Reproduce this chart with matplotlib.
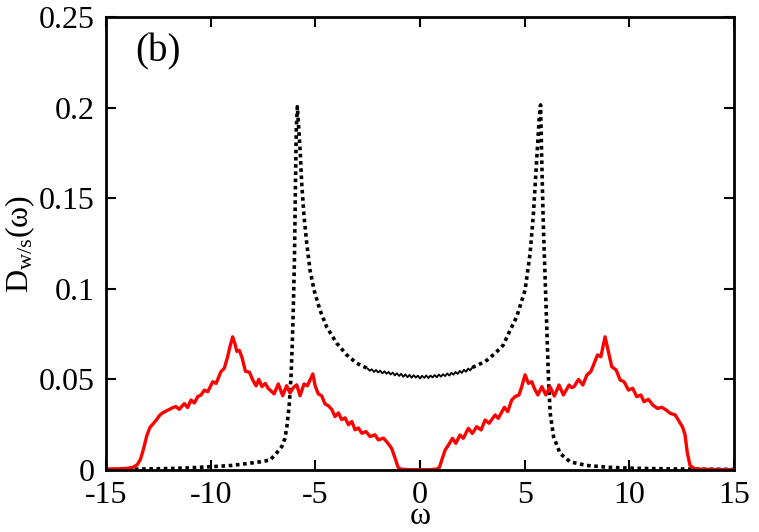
import numpy as np
import matplotlib
matplotlib.use("Agg")
import matplotlib.pyplot as plt

plt.rcParams['font.family'] = ['Liberation Serif', 'DejaVu Serif']
plt.rcParams['mathtext.fontset'] = 'custom'
plt.rcParams['mathtext.rm'] = 'Liberation Serif'
plt.rcParams['mathtext.it'] = 'Liberation Serif'
plt.rcParams['axes.unicode_minus'] = False

# red curve D_w(omega)
w_red = [-15.0, -14.5, -14.0, -13.7, -13.5, -13.35, -13.2, -13.05, -12.9, -12.75,
         -12.6, -12.45, -12.3, -12.13, -11.95, -11.8, -11.66, -11.5, -11.35, -11.26,
         -11.1, -10.94, -10.78, -10.62, -10.46, -10.3, -10.14, -9.9, -9.74, -9.51,
         -9.35, -9.19, -9.08, -8.95, -8.85, -8.75, -8.63, -8.5, -8.34, -8.15,
         -7.99, -7.83, -7.7, -7.55, -7.39, -7.25, -7.16, -6.97, -6.77, -6.56,
         -6.37, -6.21, -6.05, -5.89, -5.73, -5.54, -5.38, -5.26, -5.12, -5.01,
         -4.86, -4.7, -4.54, -4.38, -4.22, -4.06, -3.9, -3.74, -3.58, -3.42,
         -3.26, -3.1, -2.94, -2.78, -2.58, -2.39, -2.15, -1.99, -1.75, -1.59,
         -1.45, -1.35, -1.19, -1.05, -0.9, -0.5, 0.0, 0.5, 0.8, 0.93,
         1.04, 1.2, 1.36, 1.55, 1.71, 1.91, 2.07, 2.31, 2.5, 2.71,
         2.92, 3.11, 3.3, 3.59, 3.74, 4.03, 4.19, 4.38, 4.54, 4.73,
         4.86, 5.02, 5.18, 5.34, 5.46, 5.63, 5.82, 6.01, 6.21, 6.42,
         6.64, 6.85, 7.12, 7.25, 7.36, 7.57, 7.78, 7.97, 8.16, 8.32,
         8.48, 8.64, 8.84, 9.0, 9.16, 9.37, 9.56, 9.75, 9.96, 10.16,
         10.35, 10.55, 10.7, 10.91, 11.12, 11.34, 11.55, 11.76, 11.95, 12.19,
         12.34, 12.55, 12.66, 12.77, 12.9, 13.1, 13.5, 14.0, 15.0]
d_red = [0.0005, 0.0006, 0.0009, 0.0015, 0.003, 0.006, 0.012, 0.019, 0.0235, 0.0255,
         0.0275, 0.030, 0.0315, 0.0325, 0.0335, 0.0345, 0.0350, 0.0335, 0.0355, 0.0366,
         0.0345, 0.0386, 0.0370, 0.0405, 0.0414, 0.0441, 0.0432, 0.0487, 0.0478, 0.0543,
         0.0561, 0.0625, 0.068, 0.0735, 0.0700, 0.0655, 0.0660, 0.0620, 0.0545, 0.0540,
         0.0497, 0.0464, 0.0500, 0.0460, 0.0478, 0.0450, 0.0441, 0.0420, 0.0475, 0.0410,
         0.0465, 0.0425, 0.0455, 0.0470, 0.0410, 0.0475, 0.0465, 0.0495, 0.0530, 0.0465,
         0.0420, 0.0410, 0.0365, 0.0355, 0.0335, 0.0295, 0.0315, 0.0278, 0.0288, 0.0250,
         0.0268, 0.0222, 0.0232, 0.0203, 0.0212, 0.0185, 0.0194, 0.0166, 0.0176, 0.0156,
         0.0135, 0.0118, 0.0065, 0.0015, 0.0004, 0.0002, 0.0002, 0.0002, 0.0005, 0.0015,
         0.0055, 0.0110, 0.0138, 0.0175, 0.0147, 0.0193, 0.0175, 0.0230, 0.0202, 0.0239,
         0.0221, 0.0276, 0.0258, 0.0304, 0.0285, 0.0346, 0.0322, 0.0386, 0.0405, 0.0414,
         0.0460, 0.0525, 0.0478, 0.0487, 0.0451, 0.0414, 0.0460, 0.0414, 0.0460, 0.0408,
         0.0469, 0.0414, 0.0469, 0.0455, 0.0460, 0.0500, 0.0469, 0.0524, 0.0543, 0.0589,
         0.0635, 0.0625, 0.0735, 0.0653, 0.0570, 0.0552, 0.0497, 0.0487, 0.0441, 0.0451,
         0.0405, 0.0414, 0.0377, 0.0390, 0.0359, 0.0340, 0.0346, 0.0331, 0.0313, 0.0304,
         0.0276, 0.0235, 0.0195, 0.0095, 0.0025, 0.0008, 0.0004, 0.0003, 0.0002]

# black curve D_s(omega), outer parts (dotted)
w_blk_l = [-15, -14, -13, -12, -11, -10, -9, -8.3, -7.64, -7.16,
           -6.84, -6.6, -6.45, -6.34, -6.24, -6.16, -6.1, -6.05, -6.0, -5.97,
           -5.94, -5.91, -5.86, -5.8, -5.72, -5.65, -5.54, -5.41, -5.25, -5.06,
           -4.78, -4.46, -3.98, -3.5, -3.02, -2.5]
d_blk_l = [0.0003, 0.0004, 0.0006, 0.0008, 0.0012, 0.0018, 0.0025, 0.0035, 0.0045, 0.0055,
           0.0095, 0.013, 0.0175, 0.0255, 0.037, 0.052, 0.070, 0.09, 0.115, 0.14,
           0.165, 0.188, 0.2005, 0.19, 0.175, 0.158, 0.140, 0.125, 0.110, 0.0993,
           0.0883, 0.079, 0.070, 0.0635, 0.0589, 0.0560]
w_blk_r = [2.5, 3.11, 3.59, 3.98, 4.3, 4.62, 5.02, 5.26, 5.42, 5.61,
           5.7, 5.76, 5.82, 5.86, 5.9, 5.98, 6.06, 6.14, 6.22, 6.38,
           6.69, 7.17, 7.97, 9, 10, 11, 12, 13, 14, 15]
d_blk_r = [0.0566, 0.0598, 0.0644, 0.069, 0.077, 0.0846, 0.0993, 0.1196, 0.1417, 0.178,
           0.195, 0.2015, 0.169, 0.15, 0.132, 0.105, 0.0773, 0.0497, 0.0313, 0.0184,
           0.0092, 0.0045, 0.0025, 0.0015, 0.001, 0.0008, 0.0006, 0.0005, 0.0004, 0.0003]

# black curve, noisy middle part (drawn solid)
w_blk_m = np.linspace(-2.5, 2.5, 51)
d_blk_m = [0.0560, 0.0548, 0.0556, 0.0541, 0.0552, 0.0538, 0.0549, 0.0533, 0.0545, 0.0531,
           0.0541, 0.0527, 0.0538, 0.0522, 0.0534, 0.0519, 0.0531, 0.0514, 0.0528, 0.0512,
           0.0525, 0.0509, 0.0523, 0.0510, 0.0521, 0.0505, 0.0520, 0.0508, 0.0522, 0.0507,
           0.0521, 0.0511, 0.0524, 0.0512, 0.0527, 0.0515, 0.0529, 0.0518, 0.0533, 0.0521,
           0.0537, 0.0526, 0.0541, 0.0530, 0.0547, 0.0536, 0.0553, 0.0542, 0.0560, 0.0550,
           0.0566]

fig = plt.figure(figsize=(7.59, 5.32), dpi=100)
ax = fig.add_axes([106/759, 1-470/532, 628/759, 453/532])

ax.plot(w_blk_l, d_blk_l, color='k', lw=2.6, linestyle=(0, (1, 1)), dash_capstyle='butt')
ax.plot(w_blk_r, d_blk_r, color='k', lw=2.6, linestyle=(0, (1, 1)), dash_capstyle='butt')
ax.plot(w_blk_m, d_blk_m, color='k', lw=1.3)
ax.plot(w_red, d_red, color='#ff0000', lw=2.4)

ax.set_xlim(-15, 15)
ax.set_ylim(0, 0.25)
ax.set_xticks([-15, -10, -5, 0, 5, 10, 15])
ax.set_yticks([0, 0.05, 0.1, 0.15, 0.2, 0.25])
ax.set_yticklabels(['0', '0.05', '0.1', '0.15', '0.2', '0.25'])
ax.tick_params(direction='in', length=7, width=1.5, top=True, right=True,
               labelsize=23, pad=8)
for s in ax.spines.values():
    s.set_linewidth(2)

ax.set_xlabel('ω', fontsize=23, labelpad=-6)
ax.set_ylabel(r'D$_{\mathrm{w/s}}$(ω)', fontsize=23, labelpad=1)
ax.text(0.083, 0.922, '(b)', transform=ax.transAxes, fontsize=28,
        ha='center', va='center')

fig.savefig('out.png', dpi=100)
